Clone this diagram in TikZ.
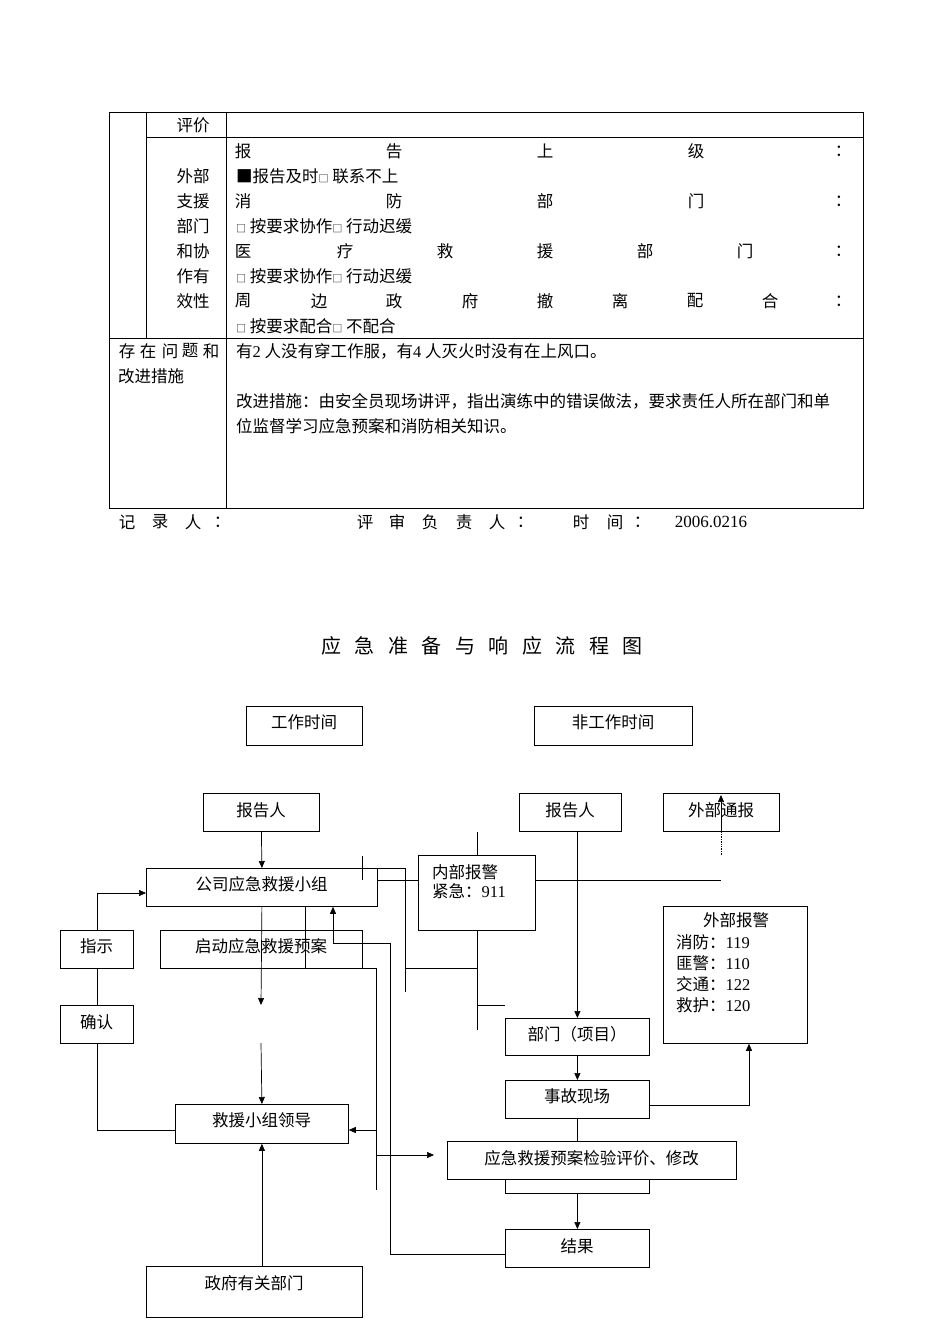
\documentclass[tikz,border=0pt]{standalone}
\usepackage{fontspec}
\setmainfont{Liberation Serif}
\newfontfamily\cjk{Noto Sans CJK SC}
\usetikzlibrary{arrows.meta}
\begin{document}
\begin{tikzpicture}[x=1pt,y=-1pt,
  box/.style={draw,line width=0.8pt,inner sep=0pt,anchor=north west},
  lbl/.style={font=\cjk\fontsize{16.5}{18}\selectfont,inner sep=0pt},
  tx/.style={font=\cjk\fontsize{16.5}{18}\selectfont,inner sep=0pt},
  ln/.style={line width=0.7pt},
  arr/.style={line width=0.7pt,-{Triangle[length=7pt,width=6pt]}},
  tl/.style={line width=0.7pt}]
\useasboundingbox (0,0) rectangle (950,1344);
\newcommand{\bx}[7]{\node[box,minimum width={(#4-#2)*1pt},minimum height={(#5-#3)*1pt}] (#1) at (#2,#3) {};
  \node[lbl] at ({(#2+#4)/2},#7) {#6};}
% ---------- table ----------
\draw[tl] (109,112) rectangle (863,508);
\draw[tl] (146,112) -- (146,338);
\draw[tl] (226,112) -- (226,508);
\draw[tl] (146,137) -- (863,137);
\draw[tl] (109,338) -- (863,338);
\node[tx] at (193,125) {评价};
\foreach \y/\t in {176/外部,201/支援,226/部门,251/和协,276/作有,301/效性} \node[tx] at (193,\y) {\t};
\foreach \x/\c in {243/报,394/告,545/上,696/级,843/：} \node[tx] at (\x,151) {\c};
\node[tx,anchor=west] at (236,176) {■报告及时{\fontsize{10}{10}\selectfont □} 联系不上};
\foreach \x/\c in {243/消,394/防,545/部,696/门,843/：} \node[tx] at (\x,201) {\c};
\node[tx,anchor=west] at (236,226) {{\fontsize{10}{10}\selectfont □} 按要求协作{\fontsize{10}{10}\selectfont □} 行动迟缓};
\foreach \x/\c in {243/医,345/疗,445/救,545/援,645/部,745/门,843/：} \node[tx] at (\x,251) {\c};
\node[tx,anchor=west] at (236,276) {{\fontsize{10}{10}\selectfont □} 按要求协作{\fontsize{10}{10}\selectfont □} 行动迟缓};
\foreach \x/\c in {243/周,319/边,394/政,470/府,545/撤,620/离,695/配,770/合,843/：} \node[tx] at (\x,301) {\c};
\node[tx,anchor=west] at (236,326) {{\fontsize{10}{10}\selectfont □} 按要求配合{\fontsize{10}{10}\selectfont □} 不配合};
\foreach \x/\c in {127/存,148/在,170/问,190/题,211/和} \node[tx] at (\x,351) {\c};
\node[tx,anchor=west] at (118,376) {改进措施};
\node[tx,anchor=west] at (236,351) {有{\rmfamily 2} 人没有穿工作服，有{\rmfamily 4} 人灭火时没有在上风口。};
\node[tx,anchor=west] at (236,401) {改进措施：由安全员现场讲评，指出演练中的错误做法，要求责任人所在部门和单};
\node[tx,anchor=west] at (236,426) {位监督学习应急预案和消防相关知识。};
\foreach \x/\c in {127/记,160/录,193/人,222/：,365/评,397/审,430/负,464/责,497/人,525/：,581/时,615/间,642/：} \node[lbl] at (\x,522) {\c};
\node[inner sep=0pt,font=\fontsize{17}{19}\selectfont] at (711,522) {2006.0216};
% ---------- title ----------
\foreach \c [count=\i from 0] in {应,急,准,备,与,响,应,流,程,图} \node[inner sep=0pt,font=\cjk\fontsize{20}{22}\selectfont] at (331+33.5*\i,646) {\c};
% ---------- boxes ----------
\bx{work}{246}{706}{362}{745}{工作时间}{722}
\bx{nowork}{534}{706}{692}{745}{非工作时间}{722}
\bx{repL}{203}{793}{319}{831}{报告人}{810}
\bx{repR}{519}{793}{621}{831}{报告人}{810}
\bx{extn}{663}{793}{779}{831}{外部通报}{810}
\bx{team}{146}{868}{377}{906}{公司应急救援小组}{884}
\node[box,minimum width=117pt,minimum height=75pt] (inner) at (418,855) {};
\node[lbl,anchor=west] at (432,872) {内部报警};
\node[lbl,anchor=west] at (432,891) {紧急：{\rmfamily 911}};
\bx{start}{160}{930}{362}{968}{启动应急救援预案}{946}
\bx{zs}{60}{930}{133}{968}{指示}{946}
\bx{qr}{60}{1005}{133}{1043}{确认}{1022}
\node[box,minimum width=144pt,minimum height=137pt] (extal) at (663,906) {};
\node[lbl] at (736,920) {外部报警};
\foreach \y/\t/\n in {942/消防/119,963/匪警/110,984/交通/122,1005/救护/120} \node[lbl,anchor=west] at (676,\y) {\t：{\rmfamily \n}};
\bx{dept}{505}{1018}{649}{1055}{部门（项目）}{1034}
\bx{site}{505}{1080}{649}{1118}{事故现场}{1096}
\bx{lead}{175}{1104}{348}{1143}{救援小组领导}{1120}
\bx{eval}{447}{1141}{736}{1179}{应急救援预案检验评价、修改}{1158}
\node[box,minimum width=144pt,minimum height=14pt] (evalb) at (505,1179) {};
\bx{res}{505}{1229}{649}{1267}{结果}{1246}
\bx{gov}{146}{1266}{362}{1317}{政府有关部门}{1283}
% ---------- connectors ----------
\draw[arr] (repL.south) -- (team.north);
\draw[arr] (team.south) -- (261,1005);
\coordinate (c1) at (261,1043);
\draw[arr] (c1) -- (lead.north);
\draw[arr] (zs.north) |- (team.west |- 0,893);
\draw[ln] (zs.south) -- (qr.north);
\draw[ln] (qr.south) |- (lead.west |- 0,1130);
\draw[arr] (gov.north -| lead.south) -- (lead.south);
\draw[ln] (team.south -| 305,0) |- (376,968) -- (376,1190);
\draw[arr] (376,1130) -- (lead.east |- 0,1130);
\draw[arr] (376,1155) -- (434,1155);
\draw[arr] (333,943) -- (team.south -| 333,0);
\draw[ln] (333,943) -- (390,943) |- (res.west |- 0,1254);
\draw[ln] (362,856) -- (362,880);
\draw[ln] (377,868) -- (405,868) -- (405,992);
\draw[ln] (377,880) -- (inner.west |- 0,880);
\draw[ln] (477,832) -- (inner.north -| 477,0);
\draw[ln] (inner.south -| 477,0) -- (477,1030);
\draw[ln] (405,968) -- (477,968);
\draw[ln] (477,1005) -- (505,1005);
\draw[ln] (inner.east |- 0,880) -- (721,880);
\draw[ln,densely dotted] (721,855) -- (721,831);
\draw[arr] (721,831) -- (721,795);
\draw[arr] (repR.south -| dept.north) -- (dept.north);
\draw[arr] (dept.south) -- (site.north);
\draw[arr] (site.east |- 0,1105) -| (extal.south -| 749,0);
\draw[ln] (site.south) -- (eval.north -| site.south);
\draw[arr] (evalb.south) -- (res.north);
\end{tikzpicture}
\end{document}
